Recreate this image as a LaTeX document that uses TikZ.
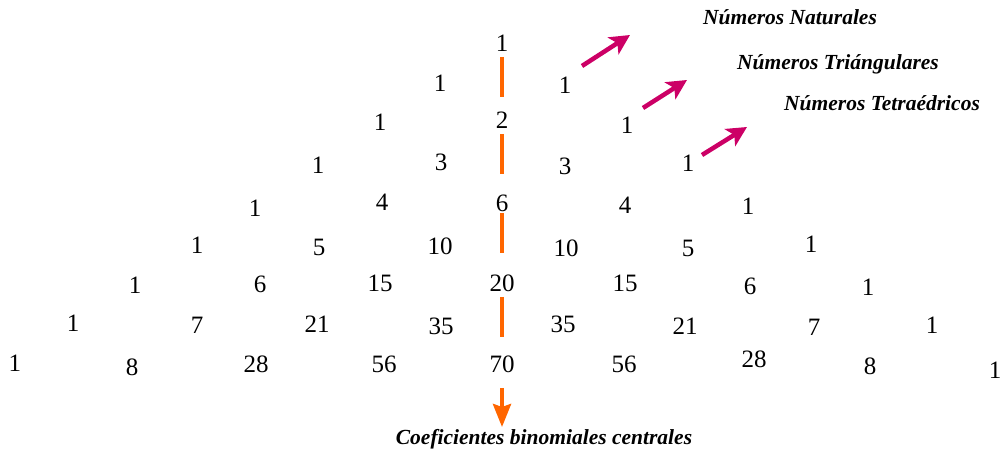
\documentclass[tikz,border=0pt]{standalone}
\usepackage{fontspec}
\setmainfont{Liberation Serif}
\usetikzlibrary{arrows.meta}
\definecolor{cor}{RGB}{255,102,0}
\definecolor{cmag}{RGB}{204,0,102}
\begin{document}
\begin{tikzpicture}[x=1pt,y=-1pt,
  num/.style={font=\fontsize{25}{25}\selectfont, inner sep=0pt},
  lab/.style={font=\fontsize{21.5}{21.5}\selectfont\bfseries\itshape, inner sep=0pt, anchor=base},
  oline/.style={draw=cor, line width=4pt},
  marrow/.style={draw=cmag, line width=4.5pt, -{Stealth[length=20pt,width=20pt,inset=5pt]}}]
\useasboundingbox (0,0) rectangle (1005,454);
% row 0
\node[num] (n00) at (502,43) {1};
% row 1
\node[num] (n10) at (440,83) {1};
\node[num] (n11) at (565,85) {1};
% row 2
\node[num] (n20) at (380,122) {1};
\node[num] (n21) at (502,120) {2};
\node[num] (n22) at (627,125) {1};
% row 3
\node[num] (n30) at (318,165) {1};
\node[num] (n31) at (441,162) {3};
\node[num] (n32) at (565,166) {3};
\node[num] (n33) at (688,163) {1};
% row 4
\node[num] (n40) at (255,208) {1};
\node[num] (n41) at (382,202) {4};
\node[num] (n42) at (502,203) {6};
\node[num] (n43) at (625,205) {4};
\node[num] (n44) at (748,206) {1};
% row 5
\node[num] (n50) at (197,245) {1};
\node[num] (n51) at (319,247) {5};
\node[num] (n52) at (440,246) {10};
\node[num] (n53) at (566,248) {10};
\node[num] (n54) at (688,248) {5};
\node[num] (n55) at (811,244) {1};
% row 6
\node[num] (n60) at (135,285) {1};
\node[num] (n61) at (260,284) {6};
\node[num] (n62) at (380,283) {15};
\node[num] (n63) at (502,283) {20};
\node[num] (n64) at (625,283) {15};
\node[num] (n65) at (750,286) {6};
\node[num] (n66) at (868,287) {1};
% row 7
\node[num] (n70) at (73,323) {1};
\node[num] (n71) at (197,325) {7};
\node[num] (n72) at (317,324) {21};
\node[num] (n73) at (441,326) {35};
\node[num] (n74) at (563,324) {35};
\node[num] (n75) at (685,326) {21};
\node[num] (n76) at (814,327) {7};
\node[num] (n77) at (932,325) {1};
% row 8
\node[num] (n80) at (15,363) {1};
\node[num] (n81) at (132,367) {8};
\node[num] (n82) at (256,364) {28};
\node[num] (n83) at (384,364) {56};
\node[num] (n84) at (502,364) {70};
\node[num] (n85) at (624,364) {56};
\node[num] (n86) at (754,359) {28};
\node[num] (n87) at (870,366) {8};
\node[num] (n88) at (995,370) {1};
% labels
\node[lab] (lnat) at (790,25) {Números Naturales};
\node[lab] (ltri) at (838,70) {Números Triángulares};
\node[lab] (ltet) at (882,111) {Números Tetraédricos};
\node[lab] (lcen) at (544,445) {Coeficientes binomiales centrales};
% central orange line
\draw[oline, shorten <=14pt, shorten >=23pt] (n00.center) -- (n21.center);
\draw[oline, shorten <=14pt, shorten >=29pt] (n21.center) -- (n42.center);
\draw[oline, shorten <=10pt, shorten >=30pt] (n42.center) -- (n63.center);
\draw[oline, shorten <=14pt, shorten >=27pt] (n63.center) -- (n84.center);
\coordinate (otip) at (502,427);
\draw[oline, shorten <=24pt, -{Stealth[length=23pt,width=18pt,inset=3pt]}] (n84.center) -- (otip);
% magenta arrows
\coordinate (a1s) at (582,66);  \coordinate (a1e) at (630,35);
\coordinate (a2s) at (643,108); \coordinate (a2e) at (687,80);
\coordinate (a3s) at (702,155); \coordinate (a3e) at (747,127);
\draw[marrow] (a1s) -- (a1e);
\draw[marrow] (a2s) -- (a2e);
\draw[marrow] (a3s) -- (a3e);
\end{tikzpicture}
\end{document}
